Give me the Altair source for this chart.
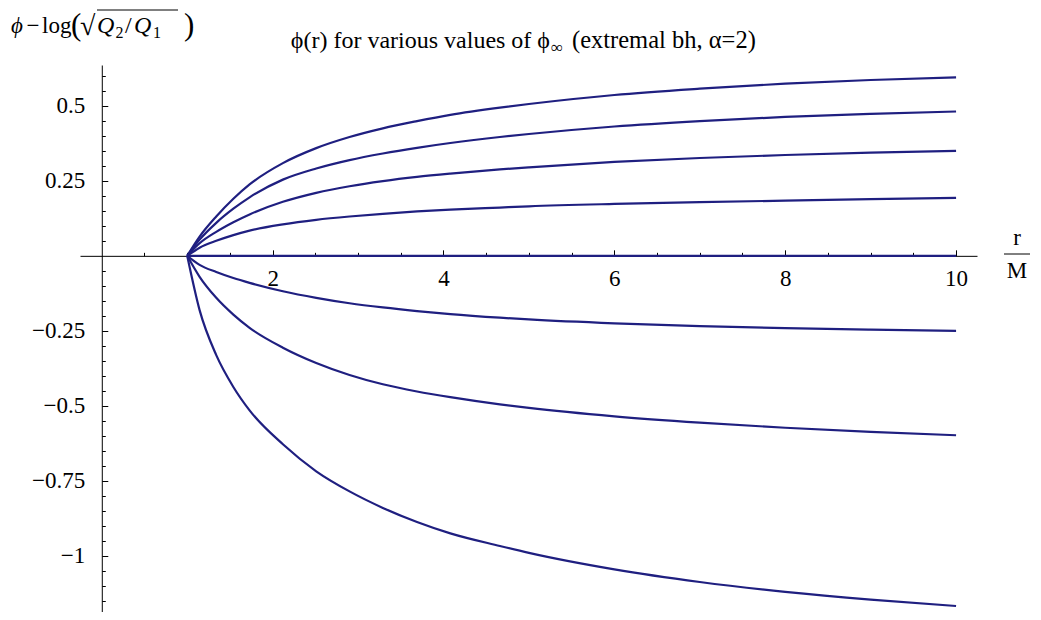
import altair as alt
import pandas as pd

# ---- data ----
R = [1, 1.145, 1.34, 1.54, 1.73, 2.12, 2.51, 2.9, 3.29, 3.69, 4.08, 4.66, 5, 6, 7, 8, 9, 10]
c1 = [0, 0.064, 0.131, 0.19, 0.238, 0.309, 0.359, 0.396, 0.425, 0.449, 0.47, 0.494, 0.506, 0.536, 0.557, 0.574, 0.586, 0.595]
c2 = [0, 0.054, 0.11, 0.157, 0.195, 0.254, 0.291, 0.319, 0.341, 0.36, 0.376, 0.396, 0.406, 0.431, 0.449, 0.463, 0.473, 0.481]
c3 = [0, 0.042, 0.08, 0.112, 0.138, 0.18, 0.21, 0.232, 0.249, 0.263, 0.274, 0.288, 0.295, 0.313, 0.326, 0.336, 0.344, 0.35]
c4 = [0, 0.027, 0.05, 0.069, 0.084, 0.105, 0.12, 0.131, 0.14, 0.148, 0.154, 0.161, 0.165, 0.173, 0.179, 0.184, 0.189, 0.193]
c0 = [0, 0, 0, 0, 0, 0, 0, 0, 0, 0, 0, 0, 0, 0, 0, 0, 0, 0]
c5 = [0, -0.03, -0.054, -0.074, -0.09, -0.118, -0.14, -0.158, -0.172, -0.184, -0.194, -0.206, -0.212, -0.225, -0.234, -0.241, -0.246, -0.25]
c6 = [0, -0.07, -0.14, -0.196, -0.24, -0.306, -0.357, -0.397, -0.428, -0.452, -0.471, -0.495, -0.507, -0.535, -0.556, -0.573, -0.587, -0.598]
c7 = [0, -0.181, -0.331, -0.437, -0.515, -0.628, -0.718, -0.785, -0.84, -0.887, -0.925, -0.967, -0.99, -1.045, -1.087, -1.12, -1.146, -1.167]
curves = [c1, c2, c3, c4, c0, c5, c6, c7]

x_labels = [2, 4, 6, 8, 10]
x_ticks = [0.5, 1, 1.5, 2, 2.5, 3, 3.5, 4, 4.5, 5, 5.5, 6, 6.5, 7, 7.5, 8, 8.5, 9, 9.5, 10]
y_labels = [0.5, 0.25, -0.25, -0.5, -0.75, -1]
y_ticks = [0.6, 0.55, 0.5, 0.45, 0.4, 0.35, 0.3, 0.25, 0.2, 0.15, 0.1, 0.05,
           -0.05, -0.1, -0.15, -0.2, -0.25, -0.3, -0.35, -0.4, -0.45, -0.5, -0.55, -0.6,
           -0.65, -0.7, -0.75, -0.8, -0.85, -0.9, -0.95, -1, -1.05, -1.1, -1.15]

X_DOMAIN = [-0.255, 10.245]
Y_DOMAIN = [-1.187, 0.636]

rows = []
for k, c in enumerate(curves):
    for r, v in zip(R, c):
        rows.append({"curve": k, "r": r, "v": v})
df = pd.DataFrame(rows)

W, H = 897, 547
PADL, PADT = 72, 57
x0 = W * (0 - X_DOMAIN[0]) / (X_DOMAIN[1] - X_DOMAIN[0])
y0 = H * (Y_DOMAIN[1] - 0) / (Y_DOMAIN[1] - Y_DOMAIN[0])

SERIF = "Liberation Serif"
NAVY = "#1f1f80"
FS = 23

xs = alt.Scale(domain=X_DOMAIN, nice=False, zero=False)
ys = alt.Scale(domain=Y_DOMAIN, nice=False, zero=False)

lines = alt.Chart(df).mark_line(color=NAVY, strokeWidth=2.2, interpolate="monotone").encode(
    x=alt.X("r:Q", scale=xs, title="",
            axis=alt.Axis(orient="bottom", offset=y0 - H, values=x_labels, ticks=False, grid=False,
                          domain=True, domainColor="black", domainWidth=1,
                          labelFont=SERIF, labelFontSize=FS, labelColor="black",
                          labelPadding=12, labelBaseline="top", labelAlign="center")),
    y=alt.Y("v:Q", scale=ys, title="",
            axis=alt.Axis(orient="left", offset=-x0, values=y_labels, ticks=False, grid=False,
                          domain=True, domainColor="black", domainWidth=1,
                          labelFont=SERIF, labelFontSize=FS, labelColor="black",
                          labelPadding=17, labelBaseline="middle", labelAlign="right",
                          labelExpr="replace(format(datum.value, '~g'), '-', '\u2212')")),
    detail="curve:N",
)

ticks = alt.Chart(df).mark_point(opacity=0).encode(
    x=alt.X("r:Q", scale=xs, title="",
            axis=alt.Axis(orient="top", offset=-y0, values=x_ticks, ticks=True, labels=False,
                          domain=False, grid=False, tickColor="black", tickWidth=1,
                          tickSize={"condition": {"test": "datum.value % 2 == 0", "value": 6}, "value": 3.5})),
    y=alt.Y("v:Q", scale=ys, title="",
            axis=alt.Axis(orient="right", offset=-(W - x0), values=y_ticks, ticks=True, labels=False,
                          domain=False, grid=False, tickColor="black", tickWidth=1,
                          tickSize={"condition": {"test": "abs(datum.value*4 - round(datum.value*4)) < 0.001", "value": 6}, "value": 3.5})),
)

one = pd.DataFrame({"k": [0]})


def txt(s, px, py, size=FS, style="normal", align="left"):
    return alt.Chart(one).mark_text(text=s, font=SERIF, fontSize=size, fontStyle=style,
                                    align=align, baseline="alphabetic", color="black").encode(
        x=alt.value(px - 8 - PADL), y=alt.value(py - 8 - PADT))


def hrule(px1, px2, py):
    return alt.Chart(one).mark_rule(color="black", strokeWidth=1).encode(
        x=alt.value(px1 - 8 - PADL), x2=alt.value(px2 - 8 - PADL), y=alt.value(py - 8 - PADT))


texts = [
    # title
    txt("\u03d5(r) for various values of \u03d5", 550, 48, 24, align="right"),
    txt("\u221e", 551, 53, 17),
    txt("(extremal bh, \u03b1=2)", 572, 48, 24.5),
    # y axis label
    txt("\u03d5", 11, 33, FS, "italic"),
    txt("\u2212", 33, 33, FS, align="center"),
    txt("log", 42, 33, FS),
    txt("(", 71, 35, 31),
    txt("\u221a", 80, 35, 28),
    txt("Q", 97, 33, 24, "italic"),
    txt("2", 115.5, 38, 16),
    txt("/", 125, 33, 24),
    txt("Q", 134, 33, 24, "italic"),
    txt("1", 153, 38, 16),
    txt(")", 184, 35, 31),
    hrule(97, 178, 10),
    # x axis label r/M
    txt("r", 1017, 245, FS, align="center"),
    hrule(1004, 1030, 254),
    txt("M", 1017, 278, FS, align="center"),
]

chart = alt.layer(lines, ticks, *texts).resolve_axis(x="independent", y="independent").properties(
    width=W, height=H,
    autosize=alt.AutoSizeParams(type="none"),
    padding={"left": PADL, "top": PADT, "right": 1025 - PADL - W, "bottom": 604 - PADT - H},
).configure_view(strokeWidth=0)

chart.save("out.html", embed_options={"renderer": "svg", "actions": False})
